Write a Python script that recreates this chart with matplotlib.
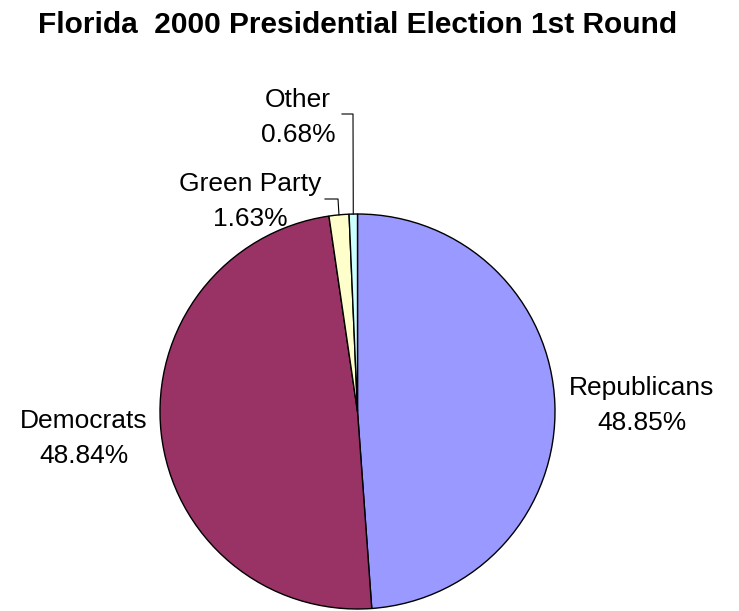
import numpy as np
import matplotlib
matplotlib.use("Agg")
import matplotlib.pyplot as plt

plt.rcParams['font.family'] = ['Liberation Sans', 'DejaVu Sans']

title = "Florida  2000 Presidential Election 1st Round"
parties = ["Republicans", "Democrats", "Green Party", "Other"]
shares = [48.85, 48.84, 1.63, 0.68]
colors = ["#9999FF", "#993366", "#FFFFCC", "#CCFFFF"]

W, H = 739, 611
fig = plt.figure(figsize=(W / 100, H / 100), dpi=100)
ax = fig.add_axes([0, 0, 1, 1])
ax.set_aspect('equal')
ax.axis('off')

# pie geometry in pixel coords (y up)
cx, cy, r = 357.5, H - 411.5, 197.5
wedges, _ = ax.pie(shares, colors=colors, startangle=90, counterclock=False,
                   center=(cx, cy), radius=r,
                   wedgeprops=dict(edgecolor='black', linewidth=1.0))
ax.set_xlim(0, W)
ax.set_ylim(0, H)

fig.text(358 / W, 1 - 33 / H, title, ha='center', va='baseline',
         fontsize=21.5, fontweight='bold')

# label centre x and first-line baseline (image px), leader elbows
label_pos = [(642, 395), (84, 428), (250, 191), (298, 107)]
elbows = [None, None, [(338, 199), (325, 199)], [(353, 114), (342, 114)]]
pitch = 35

for w, name, val, (lx, ly), elb in zip(wedges, parties, shares, label_pos, elbows):
    ax.text(lx, H - ly, name, ha='center', va='baseline', fontsize=19)
    ax.text(lx, H - ly - pitch, f"{val:.2f}%", ha='center', va='baseline', fontsize=19)
    if elb is not None:
        mid = np.deg2rad((w.theta1 + w.theta2) / 2)
        sx, sy = cx + r * np.cos(mid), cy + r * np.sin(mid)
        xs = [sx] + [p[0] for p in elb]
        ys = [sy] + [H - p[1] for p in elb]
        ax.plot(xs, ys, color='black', linewidth=0.8)

fig.savefig("out.png", dpi=100)
